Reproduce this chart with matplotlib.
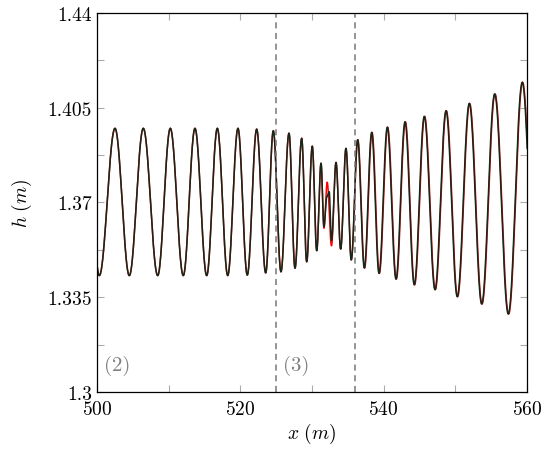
import matplotlib

matplotlib.use("Agg")

import matplotlib.pyplot as plt
import numpy as np

# extrema of the free-surface signal (x in m, h in m)
black_x = [498.5, 500.32, 502.51, 504.51, 506.46, 508.47, 510.23, 512.04, 513.67,
           515.31, 516.79, 518.24, 519.67, 520.97, 522.28, 523.54, 524.60, 525.67,
           526.79, 527.63, 528.56, 529.26, 530.04, 530.66, 531.26, 531.67, 532.05,
           532.40, 532.72, 533.35, 534.00, 534.74, 535.48, 536.37, 537.30, 538.33,
           539.35, 540.51, 541.72, 542.98, 544.27, 545.67, 547.16, 548.70, 550.27,
           551.95, 553.68, 555.49, 557.39, 559.34, 561.30]
black_h = [1.3974, 1.3430, 1.3974, 1.3430, 1.3974, 1.3430, 1.3974, 1.3430, 1.3974,
           1.3430, 1.3974, 1.3430, 1.3974, 1.3432, 1.3971, 1.3440, 1.3965, 1.3444,
           1.3956, 1.3457, 1.3937, 1.3481, 1.3908, 1.3522, 1.3845, 1.3611, 1.3720,
           1.3740, 1.3560, 1.3848, 1.3528, 1.3900, 1.3488, 1.3932, 1.3458, 1.3959,
           1.3438, 1.3978, 1.3417, 1.3998, 1.3396, 1.4018, 1.3378, 1.4039, 1.3352,
           1.4066, 1.3325, 1.4101, 1.3288, 1.4144, 1.3250]

red_x = [498.5, 500.32, 502.51, 504.51, 506.46, 508.47, 510.23, 512.04, 513.67,
         515.31, 516.79, 518.24, 519.67, 520.97, 522.28, 523.54, 524.60, 525.67,
         526.79, 527.63, 528.56, 529.26, 530.04, 530.66, 531.26, 531.67, 532.12,
         532.72, 533.35, 534.00, 534.74, 535.48, 536.40, 537.34, 538.38, 539.40,
         540.56, 541.77, 543.03, 544.32, 545.72, 547.21, 548.75, 550.32, 552.00,
         553.73, 555.54, 557.44, 559.39, 561.35]
red_h = [1.3974, 1.3430, 1.3974, 1.3430, 1.3974, 1.3430, 1.3974, 1.3430, 1.3974,
         1.3430, 1.3974, 1.3430, 1.3974, 1.3432, 1.3971, 1.3440, 1.3965, 1.3444,
         1.3956, 1.3457, 1.3937, 1.3481, 1.3908, 1.3522, 1.3845, 1.3605, 1.3775,
         1.3540, 1.3848, 1.3528, 1.3900, 1.3488, 1.3932, 1.3458, 1.3959, 1.3438,
         1.3978, 1.3417, 1.3998, 1.3396, 1.4018, 1.3378, 1.4039, 1.3352, 1.4066,
         1.3325, 1.4101, 1.3288, 1.4144, 1.3250]

box_x = [525.0, 536.0]
region_labels = ["(2)", "(3)"]
region_label_x = [501.0, 526.0]
region_label_h = 1.310

x_ticks = [500, 520, 540, 560]
y_ticks = [1.3, 1.335, 1.37, 1.405, 1.44]
y_tick_labels = ["1.3", "1.335", "1.37", "1.405", "1.44"]


def smooth_through(xs, hs, n=40):
    # half-cosine segments between consecutive extrema
    out_x, out_h = [], []
    for x0, x1, h0, h1 in zip(xs[:-1], xs[1:], hs[:-1], hs[1:]):
        t = np.linspace(0.0, 1.0, n, endpoint=False)
        out_x.append(x0 + (x1 - x0) * t)
        out_h.append(h0 + (h1 - h0) * (1 - np.cos(np.pi * t)) / 2)
    out_x.append([xs[-1]])
    out_h.append([hs[-1]])
    return np.concatenate(out_x), np.concatenate(out_h)


plt.rcParams["font.family"] = "cmr10"
plt.rcParams["mathtext.fontset"] = "cm"
plt.rcParams["axes.formatter.use_mathtext"] = True

fig = plt.figure(figsize=(5.49, 4.56), dpi=100)
ax = fig.add_axes([0.1767, 0.1382, 0.7832, 0.8311])

rx, rh = smooth_through(red_x, red_h)
bx, bh = smooth_through(black_x, black_h)
ax.plot(rx, rh, color="red", linewidth=1.1)
ax.plot(bx, bh, color="#0e2a1c", linewidth=1.1)

for xv in box_x:
    ax.axvline(xv, color="#777777", linestyle=(0, (4, 3)), linewidth=1.1)
ax.plot(box_x, [1.44, 1.44], color="#777777", linestyle=(0, (4, 3)), linewidth=1.1)

for label, xv in zip(region_labels, region_label_x):
    ax.text(xv, region_label_h, label, color="#808080", fontsize=15, va="center")

ax.set_xlim(500, 560)
ax.set_ylim(1.3, 1.44)
ax.set_xticks(x_ticks)
ax.set_xticks([510, 530, 550], minor=True)
ax.set_yticks(y_ticks)
ax.set_yticklabels(y_tick_labels)
ax.set_yticks([1.3175, 1.3525, 1.3875, 1.4225], minor=True)
ax.tick_params(which="both", direction="in", top=True, right=True,
               color="#aaaaaa", length=5, width=0.8, labelsize=14)
ax.tick_params(axis="x", pad=6)

ax.set_xlabel(r"$x\ (m)$", fontsize=14, labelpad=2)
ax.set_ylabel(r"$h\ (m)$", fontsize=14, labelpad=10)
for spine in ax.spines.values():
    spine.set_linewidth(0.9)

fig.savefig("out.png", dpi=100)
